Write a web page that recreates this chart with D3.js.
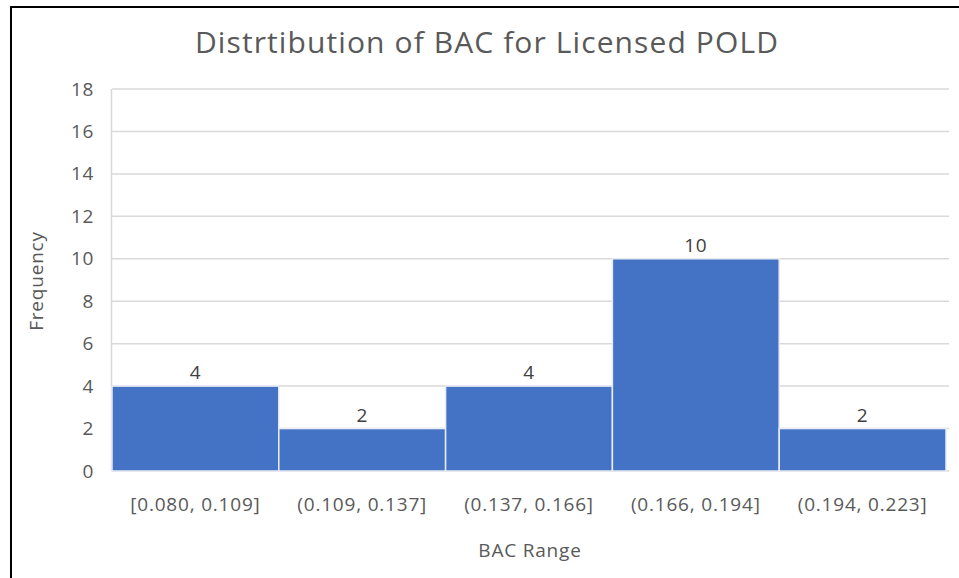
<!DOCTYPE html>
<html>
<head>
<meta charset="utf-8">
<script src="https://cdn.jsdelivr.net/npm/d3@7"></script>
<style>
  body { margin: 0; background: #fff; }
  svg { display: block; }
  text { font-family: "Open Sans", "Noto Sans", sans-serif; }
</style>
</head>
<body>
<script>
// histogram of BAC values

var w = 959;
var h = 578;

var categories = ["[0.080, 0.109]", "(0.109, 0.137]", "(0.137, 0.166]", "(0.166, 0.194]", "(0.194, 0.223]"];
var counts = [4, 2, 4, 10, 2];
var yTicks = [0, 2, 4, 6, 8, 10, 12, 14, 16, 18];

var margin = {left: 112, right: 13, top: 89, bottom: 107};

var svg = d3.select("body")
  .append("svg")
  .attr("width", w)
  .attr("height", h);

// frame edges (left and top only visible)
svg.append("rect")
  .attr("x", 11).attr("y", 7)
  .attr("width", w + 10).attr("height", h + 10)
  .attr("fill", "none")
  .attr("stroke", "#000")
  .attr("stroke-width", 2);

var x = d3.scaleBand()
  .domain(categories)
  .range([margin.left, w - margin.right])
  .padding(0);

var y = d3.scaleLinear()
  .domain([0, 18])
  .range([h - margin.bottom, margin.top]);

// gridlines
svg.append("g")
  .selectAll("line")
  .data(yTicks)
  .enter()
  .append("line")
  .attr("x1", margin.left)
  .attr("x2", w - margin.right + 3)
  .attr("y1", function(d) { return y(d); })
  .attr("y2", function(d) { return y(d); })
  .attr("stroke", "#d9d9d9")
  .attr("stroke-width", 1.5);

// vertical axis line
svg.append("line")
  .attr("x1", margin.left - 0.5).attr("x2", margin.left - 0.5)
  .attr("y1", y(18)).attr("y2", y(0))
  .attr("stroke", "#d9d9d9")
  .attr("stroke-width", 1.5);

// y tick labels
var yAxis = svg.append("g")
  .attr("transform", "translate(" + (margin.left - 18) + ",0)")
  .call(d3.axisLeft(y).tickValues(yTicks).tickSize(0).tickPadding(0));
yAxis.select(".domain").remove();
yAxis.selectAll("text")
  .attr("font-family", "'Open Sans', sans-serif")
  .attr("font-size", "19px")
  .attr("letter-spacing", "0.6px")
  .attr("fill", "#595959");

// bars
svg.selectAll("rect.bar")
  .data(counts)
  .enter()
  .append("rect")
  .attr("class", "bar")
  .attr("x", function(d, i) { return x(categories[i]); })
  .attr("y", function(d) { return y(d); })
  .attr("width", x.bandwidth())
  .attr("height", function(d) { return y(0) - y(d); })
  .attr("fill", "#4472c4")
  .attr("stroke", "#e8ecf4")
  .attr("stroke-width", 1.5);

// bar labels
svg.selectAll("text.lbl")
  .data(counts)
  .enter()
  .append("text")
  .attr("class", "lbl")
  .text(function(d) { return d; })
  .attr("text-anchor", "middle")
  .attr("x", function(d, i) { return x(categories[i]) + x.bandwidth() / 2; })
  .attr("y", function(d) { return y(d) - 7; })
  .attr("font-size", "19px")
  .attr("letter-spacing", "0.6px")
  .attr("fill", "#404040");

// x tick labels
var xAxis = svg.append("g")
  .attr("transform", "translate(0," + (y(0) + 26) + ")")
  .call(d3.axisBottom(x).tickSize(0).tickPadding(0));
xAxis.select(".domain").remove();
xAxis.selectAll("text")
  .attr("font-family", "'Open Sans', sans-serif")
  .attr("font-size", "19px")
  .attr("letter-spacing", "0.8px")
  .attr("fill", "#595959");

// title
svg.append("text")
  .text("Distrtibution of BAC for Licensed POLD")
  .attr("x", 487)
  .attr("y", 53)
  .attr("text-anchor", "middle")
  .attr("font-size", "30px")
  .attr("letter-spacing", "1.1px")
  .attr("fill", "#595959");

// axis titles
svg.append("text")
  .text("BAC Range")
  .attr("x", 530)
  .attr("y", 557)
  .attr("text-anchor", "middle")
  .attr("font-size", "19px")
  .attr("letter-spacing", "0.8px")
  .attr("fill", "#595959");

svg.append("text")
  .text("Frequency")
  .attr("transform", "translate(43,281) rotate(-90)")
  .attr("text-anchor", "middle")
  .attr("font-size", "19px")
  .attr("letter-spacing", "0.8px")
  .attr("fill", "#595959");
</script>
</body>
</html>
